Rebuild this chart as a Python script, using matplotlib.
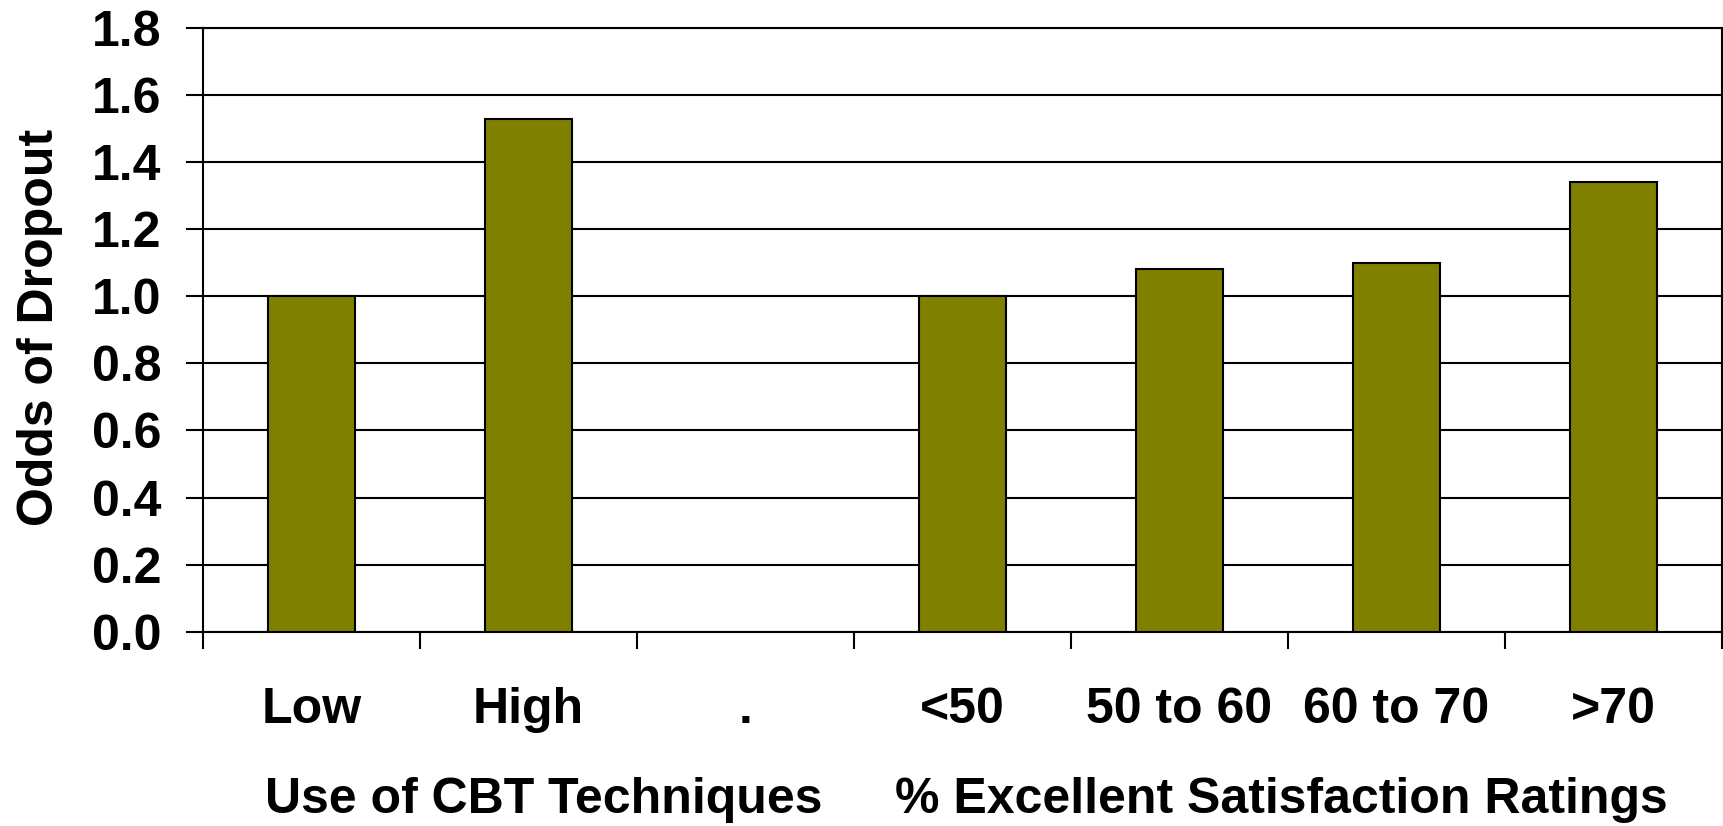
import numpy as np
import matplotlib
matplotlib.use("Agg")
import matplotlib.pyplot as plt
from matplotlib.transforms import blended_transform_factory

# odds of dropout by CBT use and by satisfaction band
categories = ["Low", "High", ".", "<50", "50 to 60", "60 to 70", ">70"]
odds = [1.00, 1.53, np.nan, 1.00, 1.08, 1.10, 1.34]
group_names = ["Use of CBT Techniques", "% Excellent Satisfaction Ratings"]
group_x = [1.07, 4.47]
yticks = [0.0, 0.2, 0.4, 0.6, 0.8, 1.0, 1.2, 1.4, 1.6, 1.8]

plt.rcParams['font.family'] = ['Liberation Sans', 'DejaVu Sans']
plt.rcParams['font.weight'] = 'bold'
FS = 36

fig = plt.figure(figsize=(17.23, 8.26), dpi=100)
ax = fig.add_axes([0.1178, 0.2352, 0.8816, 0.7309])

xpos = np.arange(len(categories))
ax.bar(xpos, odds, width=0.405, color="#808000", edgecolor="black",
       linewidth=1.5, zorder=3)

ax.set_xlim(-0.5, len(categories) - 0.5)
ax.set_ylim(0, 1.8)
ax.set_yticks(yticks)
ax.set_yticklabels(["%.1f" % v for v in yticks], fontsize=FS, fontweight='bold')
ax.yaxis.grid(True, color="black", linewidth=1.5, zorder=0)
ax.set_axisbelow(True)

# category labels without marks, boundary ticks as minor ticks
ax.set_xticks(xpos)
ax.set_xticklabels(categories, fontsize=FS, fontweight='bold')
ax.set_xticks(np.arange(-0.5, len(categories), 1.0), minor=True)
ax.tick_params(axis='x', which='major', length=0, pad=40)
ax.tick_params(axis='x', which='minor', length=12, width=1.5, direction='out')
ax.tick_params(axis='y', length=12, width=1.5, direction='out', pad=18)

for side in ["left", "bottom", "right", "top"]:
    ax.spines[side].set_linewidth(1.5)
    ax.spines[side].set_color("black")

trans = blended_transform_factory(ax.transData, ax.transAxes)
for name, gx in zip(group_names, group_x):
    ax.text(gx, -0.30, name, transform=trans, ha='center', va='baseline',
            fontsize=FS, fontweight='bold')

fig.text(40 / 1723, 0.5 + (826 / 2 - 327) / 826, "Odds of Dropout", rotation=90,
         ha='center', va='center', fontsize=FS, fontweight='bold')

fig.savefig("out.png", dpi=100)
